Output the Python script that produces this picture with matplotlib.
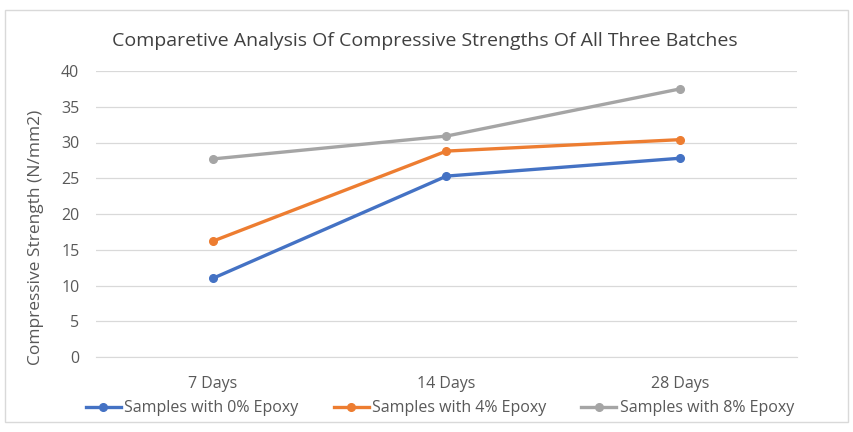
import matplotlib.pyplot as plt
from matplotlib.patches import Rectangle

# compressive strength (N/mm2) for each curing age
days = ['7 Days', '14 Days', '28 Days']
epoxy_0 = [11.0, 25.3, 27.8]
epoxy_4 = [16.2, 28.8, 30.4]
epoxy_8 = [27.7, 30.9, 37.5]
labels = ['Samples with 0% Epoxy', 'Samples with 4% Epoxy', 'Samples with 8% Epoxy']
colors = ['#4472C4', '#ED7D31', '#A5A5A5']

plt.rcParams['font.family'] = ['Open Sans', 'DejaVu Sans']
txt = '#595959'

fig = plt.figure(figsize=(8.54, 4.32), dpi=100)
ax = fig.add_axes([96/854, 75/432, 701/854, 286/432])

x = range(len(days))
for vals, lab, c in zip([epoxy_0, epoxy_4, epoxy_8], labels, colors):
    ax.plot(x, vals, color=c, lw=2.4, marker='o', ms=5.5, label=lab)

ax.set_xlim(-0.5, 2.5)
ax.set_ylim(0, 40)
ax.set_yticks(range(0, 41, 5))
ax.set_xticks(list(x))
ax.set_xticklabels(days)
ax.grid(axis='y', color='#D9D9D9', lw=0.9)
ax.set_axisbelow(True)
for s in ['top', 'right', 'left']:
    ax.spines[s].set_visible(False)
ax.spines['bottom'].set_color('#D9D9D9')
ax.tick_params(length=0, colors=txt, labelsize=11.5)
ax.tick_params(axis='x', pad=14)
ax.tick_params(axis='y', pad=12)
ax.set_ylabel('Compressive Strength (N/mm2)', color=txt, fontsize=12.5)
ax.yaxis.set_label_coords(-0.074, 0.42)

fig.suptitle('Comparetive Analysis Of Compressive Strengths Of All Three Batches',
             x=0.497, y=0.925, color='#404040', fontsize=14)

fig.legend(loc='center', bbox_to_anchor=(0.515, 0.055), ncol=3, frameon=False,
           fontsize=11.5, labelcolor=txt, handlelength=2.2, handletextpad=0.2,
           columnspacing=2.2)

fig.patches.append(Rectangle((5/854, 10/432), 843/854, 412/432, transform=fig.transFigure,
                             fill=False, edgecolor='#D9D9D9', lw=1))

fig.savefig('out.png', dpi=100)
